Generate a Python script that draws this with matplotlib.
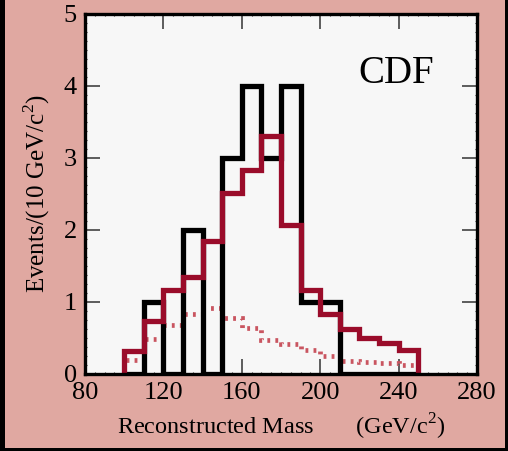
import matplotlib
matplotlib.use("Agg")
import matplotlib.pyplot as plt
import numpy as np
from matplotlib.patches import Rectangle

# bin edges in GeV/c^2 (10 GeV bins)
edges = np.arange(100, 260, 10)

# observed events per bin
data_counts = [0, 1, 0, 2, 0, 3, 4, 3, 4, 1, 1, 0, 0, 0, 0]
# signal + background expectation
total_expect = [0.32, 0.73, 1.16, 1.35, 1.85, 2.52, 2.84, 3.31, 2.07, 1.16, 0.84, 0.63, 0.50, 0.43, 0.33]
# background only
bkg_expect = [0.20, 0.48, 0.68, 0.83, 0.91, 0.78, 0.64, 0.47, 0.42, 0.33, 0.25, 0.18, 0.16, 0.15, 0.13]

x_ticks = [80, 120, 160, 200, 240, 280]
y_ticks = [0, 1, 2, 3, 4, 5]

plt.rcParams["font.family"] = ["Liberation Serif", "DejaVu Serif"]
plt.rcParams["mathtext.fontset"] = "custom"
plt.rcParams["mathtext.rm"] = "Liberation Serif"

bg = "#e0a8a1"
red = "#9a0c2a"

fig = plt.figure(figsize=(5.08, 4.51), dpi=100, facecolor=bg)
ax = fig.add_axes([85 / 508, 77 / 451, 392 / 508, 360 / 451])
ax.set_facecolor("#f7f7f7")

ax.stairs(bkg_expect, edges, color="#c95560", linewidth=3.4,
          linestyle=(0, (0.6, 1.1)), zorder=2)
ax.stairs(data_counts, edges, color="black", linewidth=3.8, zorder=3)
ax.stairs(total_expect, edges, color=red, linewidth=3.8, zorder=4)

ax.set_xlim(80, 280)
ax.set_ylim(0, 5)
ax.set_xticks(x_ticks)
ax.set_yticks(y_ticks)
ax.set_xticks(np.arange(80, 281, 5), minor=True)
ax.set_yticks(np.arange(0, 5.01, 0.125), minor=True)

ax.tick_params(which="major", direction="in", length=11, width=1.1,
               color="#333333", top=True, right=True, labelsize=19, pad=6)
ax.tick_params(which="minor", direction="in", length=1.5, width=0.8,
               color="#333333", top=True, right=True)
for s in ax.spines.values():
    s.set_linewidth(2.4)
    s.set_zorder(5)

ax.set_xlabel("Reconstructed Mass       (GeV/c$^2$)", fontsize=17.5, labelpad=5)
ax.set_ylabel("Events/(10 GeV/c$^2$)", fontsize=18, labelpad=8)

ax.text(239, 4.04, "CDF", fontsize=28, ha="center", va="baseline")

# dark frame strips along the edges
fig.patches.append(Rectangle((0, 0), 5 / 508, 1, transform=fig.transFigure,
                             facecolor="black", edgecolor="none"))
fig.patches.append(Rectangle((1 - 3 / 508, 0), 3 / 508, 1, transform=fig.transFigure,
                             facecolor="black", edgecolor="none"))
fig.patches.append(Rectangle((0, 0), 1, 3 / 451, transform=fig.transFigure,
                             facecolor="black", edgecolor="none"))

fig.savefig("out.png", dpi=100, facecolor=bg)
plt.close(fig)
